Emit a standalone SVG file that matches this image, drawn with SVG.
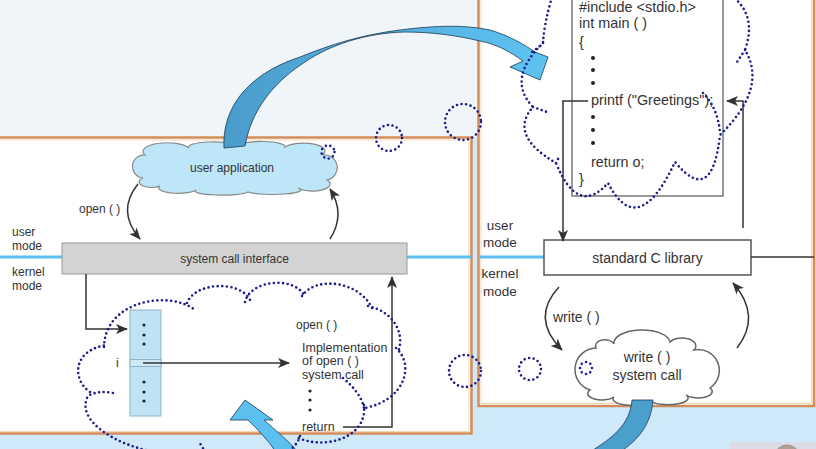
<svg xmlns="http://www.w3.org/2000/svg" width="816" height="449" viewBox="0 0 816 449">
<defs>
<style>
.t{font-family:"Liberation Sans",Arial,sans-serif;fill:#333}
.ln{fill:none;stroke:#333;stroke-width:1.5}
.dot{fill:none;stroke:#1c1c8c;stroke-width:2.6;stroke-dasharray:0 4.6;stroke-linecap:round}
.bl{stroke:#5cbff0;stroke-width:3}
.bord{fill:#fff;stroke:#d48d58;stroke-width:2.5}
.bordin{fill:none;stroke:#f5d5b5;stroke-width:1}
.barrow{stroke:#1b3b55;stroke-width:0.8}
</style>
<marker id="ah" markerUnits="userSpaceOnUse" markerWidth="12" markerHeight="10" refX="11" refY="5" orient="auto" viewBox="0 0 12 10"><path d="M0,0 L12,5 L0,10 L3,5 Z" fill="#333"/></marker>
<linearGradient id="g1" gradientUnits="userSpaceOnUse" x1="220" y1="0" x2="550" y2="0"><stop offset="0" stop-color="#4a9ccb"/><stop offset="1" stop-color="#5ec3f2"/></linearGradient>
</defs>
<g id="background">
<rect x="0" y="0" width="816" height="449" fill="#cfe9fb"/>
<rect x="0" y="0" width="478" height="138" fill="#f0f5f9"/>
<rect x="730" y="442" width="86" height="10" fill="#dcdce4"/>
<circle cx="787" cy="458" r="13" fill="#b0a098" stroke="#998"/>
</g>
<g id="panel-right">
<rect class="bord" x="478.5" y="-5" width="335.5" height="411"/>
<rect class="bordin" x="481" y="-5" width="330.5" height="408.5"/>
</g>
<g id="panel-left">
<rect class="bord" x="-5" y="137.5" width="476.5" height="296"/>
<rect class="bordin" x="-5" y="140" width="474" height="291.5"/>
</g>
<g id="mode-lines">
<line class="bl" x1="0" y1="257" x2="62" y2="257"/>
<line class="bl" x1="407" y1="257" x2="471" y2="257"/>
<line class="bl" x1="480" y1="257" x2="544" y2="257"/>
</g>
<g id="user-application">
<path d="M143,178 A11.5,11.5 0 0 1 145,155 A22,8 0 0 1 189,148 A24,5 0 0 1 237,146 A24,5 0 0 1 285,147 A19,7 0 0 1 322,155 A12.7,12.7 0 0 1 327,180 A15,6 0 0 1 298,188 A25,4 0 0 1 248,192 A26,4 0 0 1 196,190 A18,5 0 0 1 160,186 A9,4 0 0 1 143,178 Z" fill="#bde6f8" stroke="#888" stroke-width="1.2"/>
<text class="t" x="232" y="172" font-size="12" text-anchor="middle">user application</text>
</g>
<g id="system-call-interface">
<rect x="62" y="243" width="345" height="31" fill="#d3d3d3" stroke="#9a9a9a" stroke-width="1"/>
<text class="t" x="234.5" y="263" font-size="12" text-anchor="middle">system call interface</text>
</g>
<g id="mode-labels-left">
<text class="t" x="12" y="236" font-size="12">user</text>
<text class="t" x="12" y="250" font-size="12">mode</text>
<text class="t" x="12" y="276" font-size="12">kernel</text>
<text class="t" x="12" y="290" font-size="12">mode</text>
</g>
<g id="syscall-table">
<rect x="130" y="310" width="31" height="106" fill="#bfe3f5" stroke="#8fb3c8" stroke-width="1"/>
<rect x="130" y="359.5" width="31" height="7" fill="#cfeaf7" stroke="#8fb3c8" stroke-width="1"/>
<g fill="#222"><circle cx="144" cy="325" r="1.6"/><circle cx="144" cy="335" r="1.6"/><circle cx="144" cy="344" r="1.6"/><circle cx="144" cy="382" r="1.6"/><circle cx="144" cy="392" r="1.6"/><circle cx="144" cy="401" r="1.6"/></g>
<text class="t" x="116" y="367" font-size="12">i</text>
</g>
<g id="open-implementation">
<text class="t" x="296" y="329" font-size="12">open ( )</text>
<text class="t" x="302" y="352" font-size="12.5">Implementation</text>
<text class="t" x="302" y="365" font-size="12.5">of open ( )</text>
<text class="t" x="302" y="379" font-size="12.5">system call</text>
<g fill="#222"><circle cx="310" cy="391" r="1.6"/><circle cx="310" cy="400" r="1.6"/><circle cx="310" cy="410" r="1.6"/></g>
<text class="t" x="302" y="431" font-size="12.5">return</text>
</g>
<g id="code-box">
<rect x="572" y="-5" width="151" height="201" fill="#fff" stroke="#777" stroke-width="1.5"/>
<text class="t" x="579" y="12" font-size="14.4">#include &lt;stdio.h&gt;</text>
<text class="t" x="579" y="28" font-size="14.4">int main ( )</text>
<text class="t" x="579" y="47" font-size="14.4">{</text>
<text class="t" x="591" y="105" font-size="14.4">printf ("Greetings");</text>
<text class="t" x="591" y="167" font-size="14.4">return o;</text>
<text class="t" x="579" y="184" font-size="14.4">}</text>
<g fill="#222"><circle cx="593" cy="58" r="2"/><circle cx="593" cy="70" r="2"/><circle cx="593" cy="83" r="2"/><circle cx="593" cy="117" r="2"/><circle cx="593" cy="130" r="2"/><circle cx="593" cy="143" r="2"/></g>
</g>
<g id="standard-c-library">
<rect x="544" y="240" width="207" height="35" fill="#fff" stroke="#555" stroke-width="1.5"/>
<text class="t" x="647.5" y="263" font-size="14" text-anchor="middle">standard C library</text>
</g>
<g id="mode-labels-right">
<text class="t" x="500" y="230" font-size="13.5" text-anchor="middle">user</text>
<text class="t" x="500" y="247" font-size="13.5" text-anchor="middle">mode</text>
<text class="t" x="500" y="278" font-size="13.5" text-anchor="middle">kernel</text>
<text class="t" x="500" y="296" font-size="13.5" text-anchor="middle">mode</text>
</g>
<g id="write-system-call">
<path d="M590,390 A21.5,21.5 0 0 1 596,348 A9,6 0 0 1 614,344 A28,13 0 0 1 670,342 A12,7 0 0 1 694,350 A21,21 0 0 1 710,388 A11,5 0 0 1 686,395 A18,6 0 0 1 650,401 A18,6 0 0 1 614,397 A11,5 0 0 1 590,390 Z" fill="#fff" stroke="#666" stroke-width="1.5"/>
<text class="t" x="647" y="362" font-size="14" text-anchor="middle">write ( )</text>
<text class="t" x="647" y="380" font-size="14" text-anchor="middle">system call</text>
</g>
<g id="connectors">
<path class="ln" d="M138,184 Q116,211 140,239" marker-end="url(#ah)"/>
<text class="t" x="79" y="213" font-size="12">open ( )</text>
<path class="ln" d="M330,239 Q346,214 330,189" marker-end="url(#ah)"/>
<path class="ln" d="M86,274 V329 H127" marker-end="url(#ah)"/>
<path class="ln" d="M143,363 H289" marker-end="url(#ah)"/>
<path class="ln" d="M343,427 H392 V277" marker-end="url(#ah)"/>
<path class="ln" d="M588,101 H563 V241" marker-end="url(#ah)"/>
<path class="ln" d="M743,228 V101 H727" marker-end="url(#ah)"/>
<path class="ln" d="M751,257 H814"/>
<path class="ln" d="M559,287 Q530,318 562,350" marker-end="url(#ah)"/>
<text class="t" x="553" y="322" font-size="14">write ( )</text>
<path class="ln" d="M737,348 Q762,316 733,283" marker-end="url(#ah)"/>
</g>
<g id="block-arrows">
<path class="barrow" fill="url(#g1)" d="M224,148 C222,110 245,75 300,57 C330,45 360,35 400,30 C440,25 465,25 490,30 C510,36 525,45 535,52 L548,57 L540,80 L510,67 L523,61 C508,50 495,44 480,41 C455,35 430,32 405,32 C365,33 330,45 305,62 C280,78 252,105 245,146 Z"/>
<path class="barrow" fill="#5bc0f0" d="M245,400 L273,420 L264,420 C275,430 288,440 298,452 L276,452 C268,440 258,430 248,420 L230,420 Z"/>
<path class="barrow" fill="#4a9fcc" d="M632,400 L653,400 C651,425 638,440 620,452 L590,452 C612,438 630,425 632,400 Z"/>
</g>
<g id="dotted-annotations">
<path class="dot" d="M104,347 C105,300 170,290 195,310 M187,303 C195,282 240,280 250,300 M245,302 C250,280 295,275 305,297 M302,296 C315,276 360,280 373,310 M368,306 C395,312 405,335 398,352 M396,348 C415,365 405,400 365,408 M343,378 C355,388 362,398 364,408 M364,405 C368,440 320,450 297,437 M300,436 C290,470 210,470 200,443 M155,452 C115,445 75,420 88,396 Q98,390 113,393 M90,392 C72,380 72,350 107,345"/>
<path class="dot" d="M552,-3 Q544,24 543,43 Q506,79 533,107 Q508,135 556,163 Q578,217 608,183 Q638,241 675,162 Q712,207 720,135 Q768,88 745,50 Q757,16 733,-3 M543,43 Q538,48 532,52 M533,107 L547,112 M556,163 L559,157 M745,50 L737,62 M703,93 Q718,108 720,133"/>
<circle class="dot" cx="328" cy="152" r="6.5"/>
<circle class="dot" cx="389" cy="138" r="13"/>
<circle class="dot" cx="463" cy="122" r="18"/>
<circle class="dot" cx="465" cy="371" r="16"/>
<circle class="dot" cx="530" cy="369" r="11"/>
<circle class="dot" cx="586" cy="368" r="6"/>
</g>
</svg>
